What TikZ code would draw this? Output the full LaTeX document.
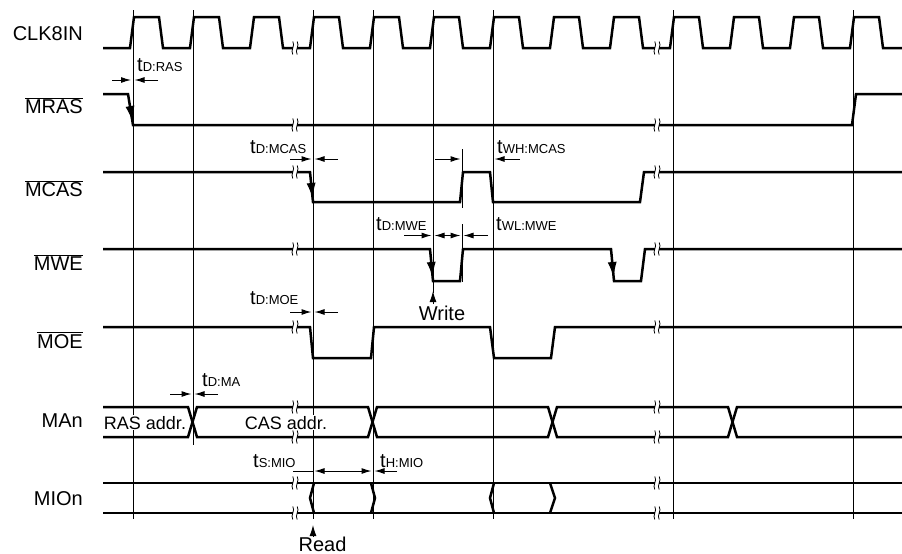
\documentclass[tikz,border=0pt]{standalone}
\usepackage{fontspec}
\setmainfont{Liberation Sans}
\usetikzlibrary{arrows.meta}

\newcommand{\tsub}[1]{t{\fontsize{13}{15}\selectfont #1}}

\begin{document}
\begin{tikzpicture}[
  x=1pt, y=-1pt,
  signal/.style={line width=2.5pt},
  gridline/.style={line width=0.9pt},
  dim/.style={
    line width=1pt,
    -{Latex[length=10pt,width=6pt]}
  },
  dimboth/.style={
    line width=1pt,
    {Latex[length=10pt,width=6pt]}-{Latex[length=10pt,width=6pt]}
  },
  fall/.style={
    line width=1pt,
    -{Latex[length=15pt,width=9pt]}
  },
  pointer/.style={-{Latex[length=11pt,width=7pt]}, line width=1pt},
  lbl/.style={anchor=base east, inner sep=0pt, font=\fontsize{20}{24}\selectfont},
  tlbl/.style={anchor=base west, inner sep=0pt, font=\fontsize{20}{24}\selectfont},
  buslbl/.style={anchor=base, inner sep=1pt, fill=white, font=\fontsize{18}{22}\selectfont},
  brk/.pic={
    \fill[white] (-1.8,-2.2) rectangle (1.8,2.2);
    \draw[line width=0.8pt] (-2.2,-6.5) .. controls (0.6,-2.5) and (-5,2.5) .. (-2.2,6.5);
    \draw[line width=0.8pt] (2.2,-6.5) .. controls (5,-2.5) and (-0.6,2.5) .. (2.2,6.5);
  }
]
  \useasboundingbox (0,0) rectangle (902,554);

  % grid
  \draw[gridline]
    (133,10) -- (133,519)
    (193,10) -- (193,445)
    (313,10) -- (313,519)
    (373,10) -- (373,519)
    (433,10) -- (433,293)
    (493,10) -- (493,519)
    (673,10) -- (673,519)
    (853,10) -- (853,519);

  % CLK8IN
  \node[lbl] (clk) at (83,40.5) {CLK8IN};
  \draw[signal] (103,48)
    -- (130,48) -- (134,17) -- (159,17) -- (163,48) -- (190,48) -- (194,17) -- (219,17)
    -- (223,48) -- (250,48) -- (254,17) -- (279,17) -- (283,48) -- (310,48) -- (314,17)
    -- (339,17) -- (343,48) -- (370,48) -- (374,17) -- (399,17) -- (403,48) -- (430,48)
    -- (434,17) -- (459,17) -- (463,48) -- (490,48) -- (494,17) -- (519,17) -- (523,48)
    -- (550,48) -- (554,17) -- (579,17) -- (583,48) -- (610,48) -- (614,17) -- (639,17)
    -- (643,48) -- (670,48) -- (674,17) -- (699,17) -- (703,48) -- (730,48) -- (734,17)
    -- (759,17) -- (763,48) -- (790,48) -- (794,17) -- (819,17) -- (823,48) -- (850,48)
    -- (854,17) -- (879,17) -- (883,48) -- (902,48);

  % MRAS
  \node[lbl] (mras) at (83,113.5) {$\overline{\mbox{MRAS}}$};
  \draw[signal] (103,94) -- (128,94) -- (133,125) -- (852,125) -- (856,94) -- (902,94);
  \draw[fall] (128,94) -- (132.4,121);
  \node[tlbl] (tdras) at (137,71) {\tsub{D:RAS}};
  \draw[dim] (112,80) -- (131,80);
  \draw[dim] (158,80) -- (134.5,80);

  % MCAS
  \node[lbl] (mcas) at (83,196.5) {$\overline{\mbox{MCAS}}$};
  \draw[signal] (103,172) -- (310,172) -- (313,202) -- (460,202) -- (463,172) -- (490,172)
    -- (493,202) -- (640,202) -- (644,172) -- (902,172);
  \draw[fall] (310,172) -- (312.6,198);
  \node[tlbl] (tdmcas) at (250,153.5) {\tsub{D:MCAS}};
  \draw[dim] (290,159) -- (311.5,159);
  \draw[dim] (338,159) -- (314.5,159);
  \node[tlbl] (twhmcas) at (497,153.5) {\tsub{WH:MCAS}};
  \draw[gridline] (462,149) -- (462,208);
  \draw[dim] (435,159) -- (460.5,159);
  \draw[dim] (520,159) -- (494.5,159);

  % MWE
  \node[lbl] (mwe) at (83,270.5) {$\overline{\mbox{MWE}}$};
  \draw[signal] (103,249) -- (430,249) -- (433,281) -- (460,281) -- (463,249) -- (611,249)
    -- (614,281) -- (641,281) -- (645,249) -- (902,249);
  \draw[fall] (430,249) -- (432.6,277);
  \draw[fall] (611,249) -- (613.6,277);
  \node[tlbl] (tdmwe) at (376,230) {\tsub{D:MWE}};
  \node[tlbl] (twlmwe) at (496,230) {\tsub{WL:MWE}};
  \draw[gridline] (462,224) -- (462,282);
  \draw[dim] (404,235.5) -- (431.5,235.5);
  \draw[dimboth] (434.5,235.5) -- (460.5,235.5);
  \draw[dim] (488,235.5) -- (463.5,235.5);
  \node[anchor=base, inner sep=0pt, font=\fontsize{20}{24}\selectfont] (write) at (442,320) {Write};
  \draw[pointer] (433,304) -- (433,291);

  % MOE
  \node[lbl] (moe) at (83,348) {$\overline{\mbox{MOE}}$};
  \draw[signal] (103,327) -- (310,327) -- (313,358) -- (371,358) -- (374,327) -- (490,327)
    -- (494,358) -- (551,358) -- (555,327) -- (902,327);
  \node[tlbl] (tdmoe) at (250,304) {\tsub{D:MOE}};
  \draw[dim] (290,312) -- (311.5,312);
  \draw[dim] (338,312) -- (314.5,312);

  % MAn
  \node[lbl] (man) at (83,427) {MAn};
  \draw[signal] (103,407) -- (188,407) -- (197,437) -- (368,437) -- (377,407) -- (548,407)
    -- (557,437) -- (728,437) -- (737,407) -- (902,407);
  \draw[signal] (103,437) -- (188,437) -- (197,407) -- (368,407) -- (377,437) -- (548,437)
    -- (557,407) -- (728,407) -- (737,437) -- (902,437);
  \node[buslbl] (rasaddr) at (145,429) {RAS addr.};
  \node[buslbl] (casaddr) at (286,429) {CAS addr.};
  \node[tlbl] (tdma) at (202,386) {\tsub{D:MA}};
  \draw[dim] (170,394) -- (191.5,394);
  \draw[dim] (218,394) -- (194.5,394);

  % MIOn
  \node[lbl] (mion) at (83,505.5) {MIOn};
  \draw[signal] (103,483) -- (902,483);
  \draw[signal] (103,513) -- (902,513);
  \draw[signal] (314,483) -- (310,498) -- (314,513);
  \draw[signal] (371,483) -- (375,498) -- (371,513);
  \draw[signal] (494,483) -- (490,498) -- (494,513);
  \draw[signal] (550,483) -- (555,498) -- (550,513);
  \node[tlbl] (tsmio) at (253,467) {\tsub{S:MIO}};
  \node[tlbl] (thmio) at (380,467) {\tsub{H:MIO}};
  \draw[gridline] (293,471) -- (313,471);
  \draw[dimboth] (314.5,471) -- (371.5,471);
  \draw[dim] (397,471) -- (374.5,471);
  \node[anchor=base, inner sep=0pt, font=\fontsize{20}{24}\selectfont] (read) at (322.5,551.5) {Read};
  \draw[pointer] (313,536) -- (313,525);

  % time breaks
  \path (295,48) pic {brk} (657,48) pic {brk}
    (295,125) pic {brk} (657,125) pic {brk}
    (295,172) pic {brk} (657,172) pic {brk}
    (295,249) pic {brk} (657,249) pic {brk}
    (295,327) pic {brk} (657,327) pic {brk}
    (295,407) pic {brk} (657,407) pic {brk}
    (295,437) pic {brk} (657,437) pic {brk}
    (295,483) pic {brk} (657,483) pic {brk}
    (295,513) pic {brk} (657,513) pic {brk};
\end{tikzpicture}
\end{document}
